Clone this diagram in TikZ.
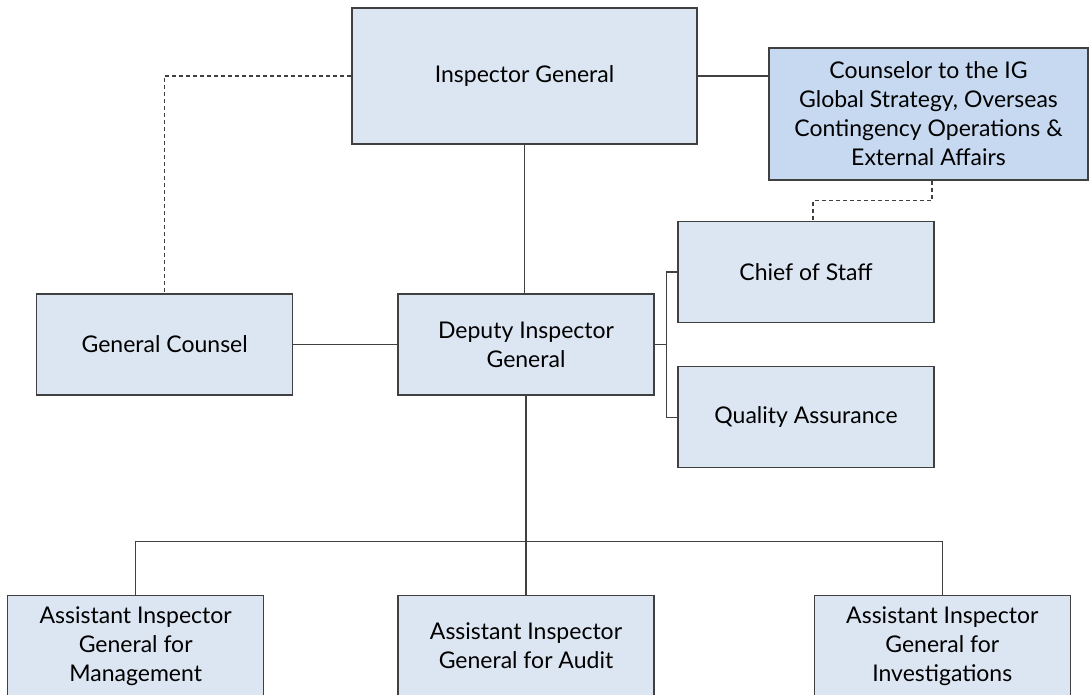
\documentclass[tikz,border=0pt]{standalone}
\usepackage{fontspec}
\setmainfont{Lato}
\usepackage{xcolor}
\usepackage{tikz}
\usetikzlibrary{positioning}

\definecolor{boxfill}{HTML}{DCE6F2}
\definecolor{boxfilldark}{HTML}{C6D9F1}
\definecolor{edgegray}{HTML}{404040}

\tikzset{
    unit/.style={rectangle, draw=edgegray, line width=1.3pt, fill=boxfill,
        inner sep=0pt, align=center, font=\fontsize{23}{29}\selectfont,
        minimum width=256pt, minimum height=101pt},
    link/.style={draw=edgegray, line width=1.3pt},
    dotlink/.style={link, dash pattern=on 4pt off 3pt}
}

\begin{document}
\begin{tikzpicture}[x=1pt, y=1pt]
        \useasboundingbox (0,0) rectangle (1089,-695);
        \node[unit, minimum width=345pt, minimum height=136pt] (ig) at (524.5,-76) {Inspector General};
        \node[unit, fill=boxfilldark, minimum width=319pt, minimum height=132pt] (coun) at (928.5,-114)
            {Counselor to the IG\\Global Strategy, Overseas\\Contingency Operations \&\\External Affairs};
        \node[unit] (dep) at (526,-344.5) {Deputy Inspector\\General};
        \node[unit, left = 104pt of dep] (gc) {General Counsel};
        \node[unit] (chief) at (806,-272) {Chief of Staff};
        \node[unit, below = 43pt of chief] (qa) {Quality Assurance};
        \node[unit, below = 199pt of dep] (aiga) {Assistant Inspector\\General for Audit};
        \node[unit, left = 133pt of aiga] (aigm) {Assistant Inspector\\General for\\Management};
        \node[unit, right = 159pt of aiga] (aigi) {Assistant Inspector\\General for\\Investigations};
        \draw[dotlink] (ig.west) -| (gc.north);
        \draw[link] (ig.east) -- (ig.east -| coun.west);
        \draw[dotlink] ([xshift=3.5pt]coun.south) -- ++(0,-20) -| ([xshift=7pt]chief.north);
        \draw[link] (ig.south) -- (ig.south |- dep.north);
        \draw[link] (gc) -- (dep);
        \draw[link] (dep.east) -- ++(12,0) coordinate (bus);
        \draw[link] (chief.west) -| (bus) |- (qa.west);
        \draw[link] (dep.south) -- ++(0,-145.5) coordinate (split);
        \draw[link] (aigm.north) |- (split) -| (aigi.north);
        \draw[link] (split) -- (aiga.north);
    \end{tikzpicture}
\end{document}
